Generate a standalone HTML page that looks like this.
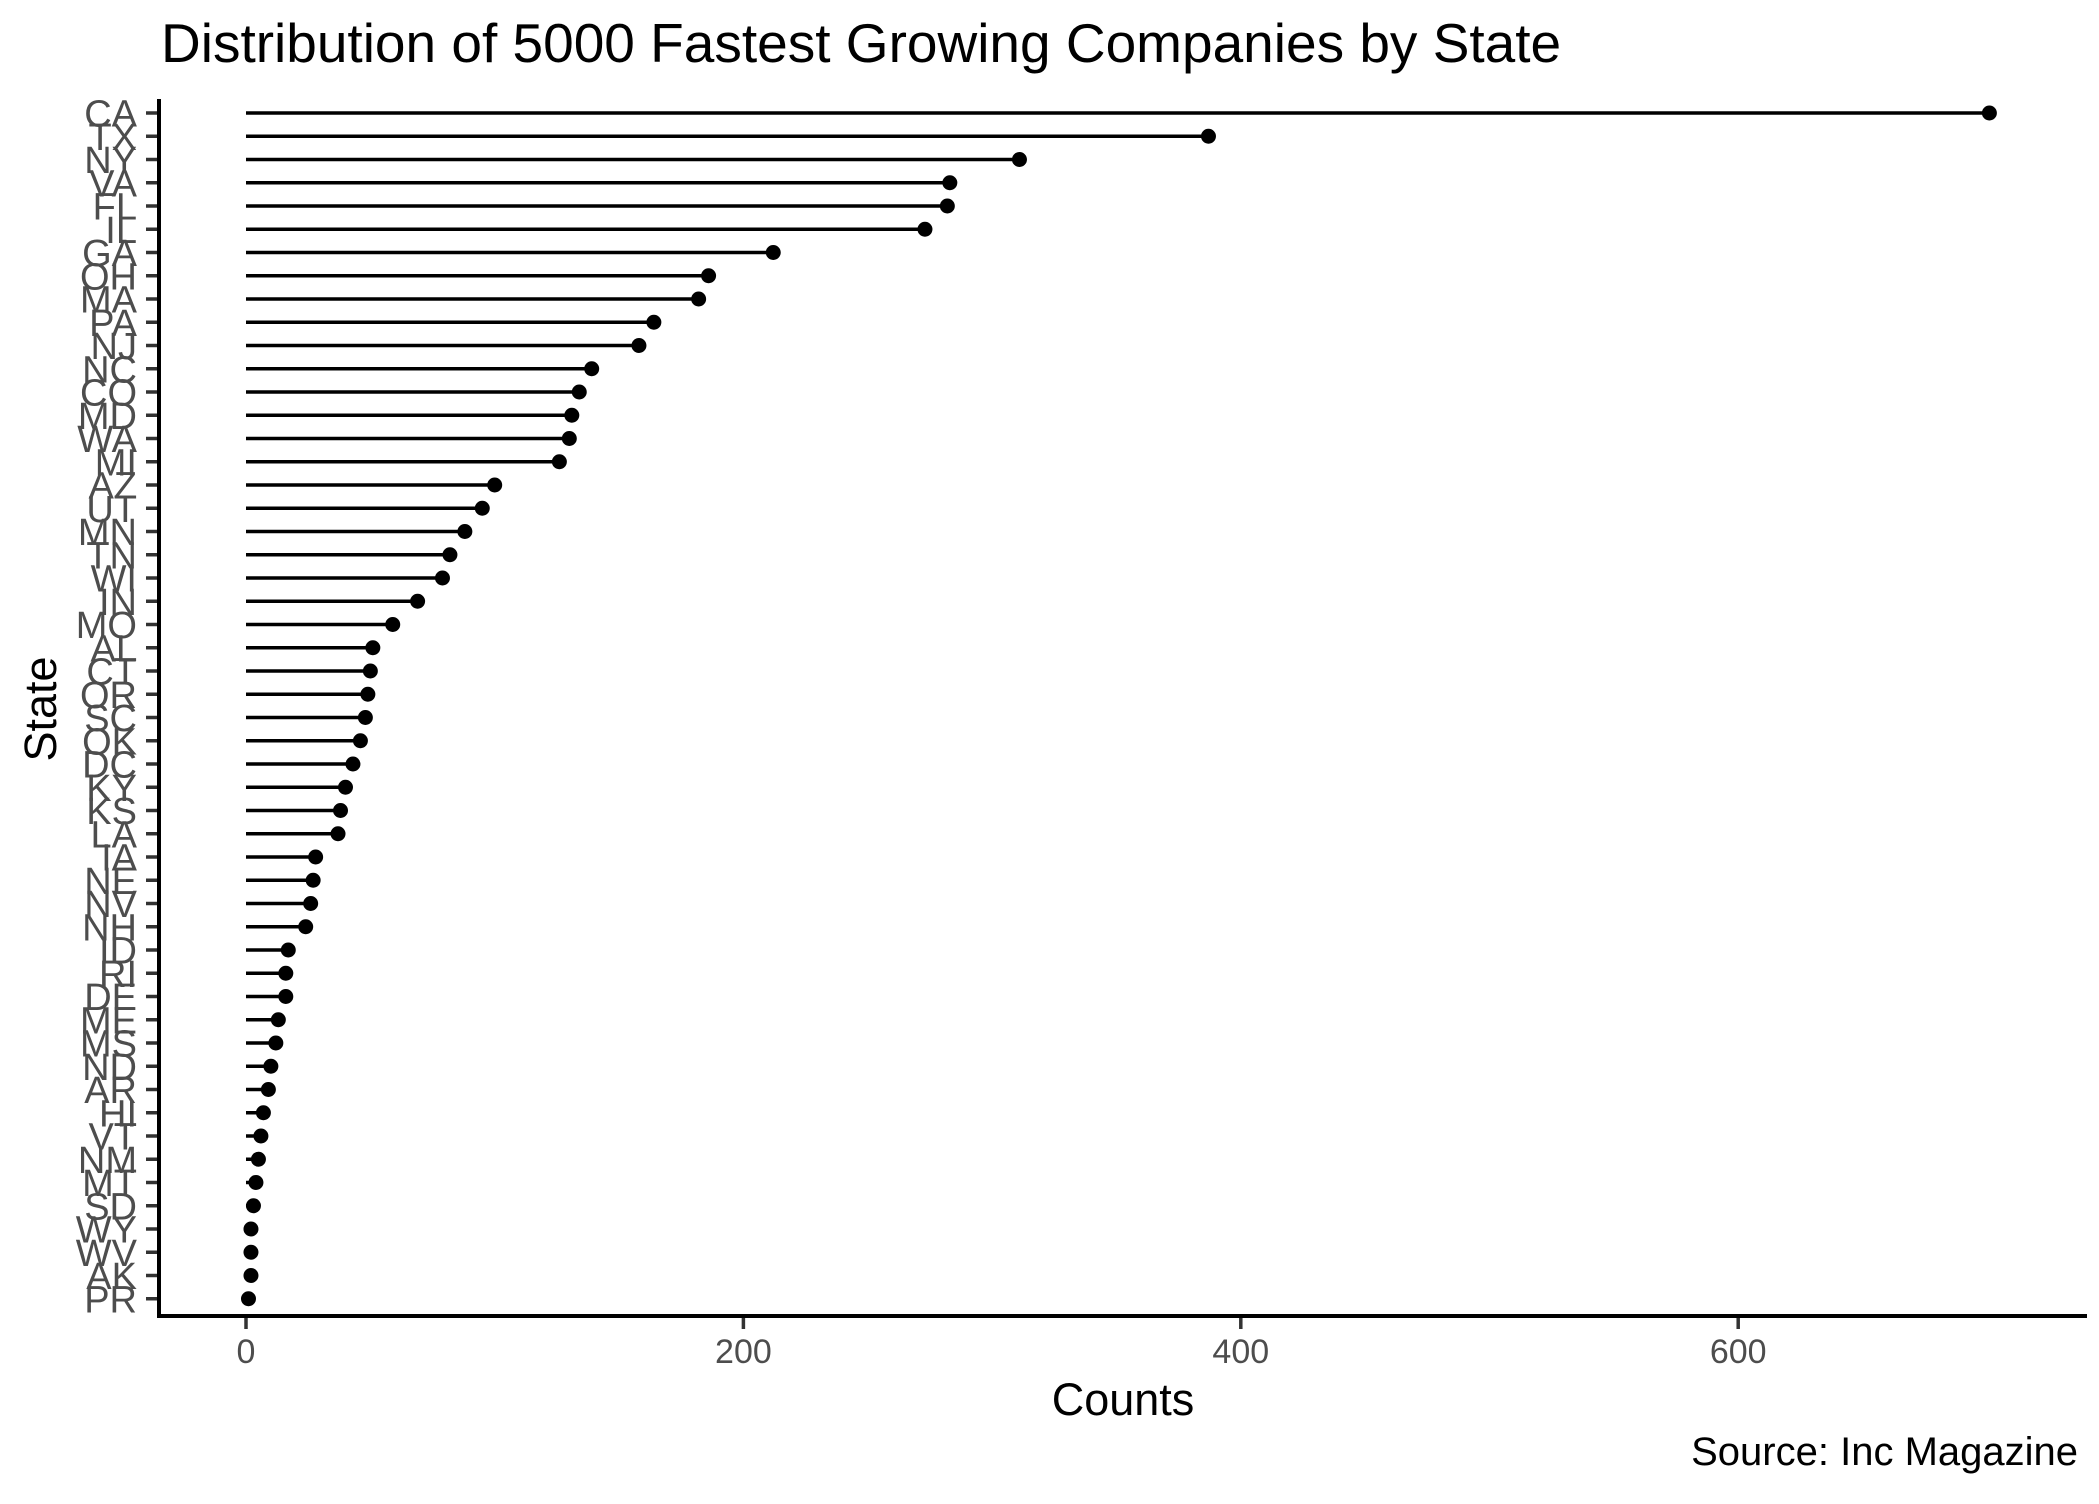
<!DOCTYPE html>
<html><head><meta charset="utf-8"><style>
body{margin:0;background:#fff}
text{font-family:"Liberation Sans",sans-serif}
</style></head><body>
<svg id="chart" width="2099" height="1499" xmlns="http://www.w3.org/2000/svg">
<text x="161" y="62" font-size="55" fill="#000">Distribution of 5000 Fastest Growing Companies by State</text>
<g id="plot"></g>
<line x1="159" y1="99" x2="159" y2="1318" stroke="#000" stroke-width="4"/>
<line x1="157" y1="1316" x2="2087" y2="1316" stroke="#000" stroke-width="4"/>
<text x="1123" y="1415" font-size="45" text-anchor="middle">Counts</text>
<text x="0" y="0" font-size="45" text-anchor="middle" transform="translate(56,709) rotate(-90)">State</text>
<text x="2078" y="1465" font-size="40" text-anchor="end">Source: Inc Magazine</text>
</svg>
<script>
const states=["CA","TX","NY","VA","FL","IL","GA","OH","MA","PA","NJ","NC","CO","MD","WA","MI","AZ","UT","MN","TN","WI","IN","MO","AL","CT","OR","SC","OK","DC","KY","KS","LA","IA","NE","NV","NH","ID","RI","DE","ME","MS","ND","AR","HI","VT","NM","MT","SD","WY","WV","AK","PR"];
const counts=[701,387,311,283,282,273,212,186,182,164,158,139,134,131,130,126,100,95,88,82,79,69,59,51,50,49,48,46,43,40,38,37,28,27,26,24,17,16,16,13,12,10,9,7,6,5,4,3,2,2,2,1];
const xTicks=[0,200,400,600];
const NS="http://www.w3.org/2000/svg";
const g=document.getElementById('plot');
const x=v=>246+v*2.487;
const y=i=>113+i*23.25;
function mk(t,a){const e=document.createElementNS(NS,t);for(const k in a)e.setAttribute(k,a[k]);g.appendChild(e);return e;}
states.forEach((s,i)=>{
  const l=mk('line',{x1:x(0),x2:x(counts[i]),y1:y(i),y2:y(i),stroke:'#000','stroke-width':3.5});
  
  
  const c=mk('circle',{cx:x(counts[i]),cy:y(i),r:7.5,fill:'#000'});
  
  
  const tk=mk('line',{x1:146,x2:159,y1:y(i),y2:y(i),stroke:'#333','stroke-width':3.5});
  
  
  const t=mk('text',{x:137,y:y(i)+13.5,'font-size':38,'text-anchor':'end',fill:'#4d4d4d'});
  t.textContent=s;
  
  
});
xTicks.forEach(v=>{
  const tk=mk('line',{x1:x(v),x2:x(v),y1:1316,y2:1329,stroke:'#333','stroke-width':3.5});
  
  
  const t=mk('text',{x:x(v),y:1363,'font-size':34,'text-anchor':'middle',fill:'#4d4d4d'});
  t.textContent=v;
  
  
});
</script>
</body></html>
